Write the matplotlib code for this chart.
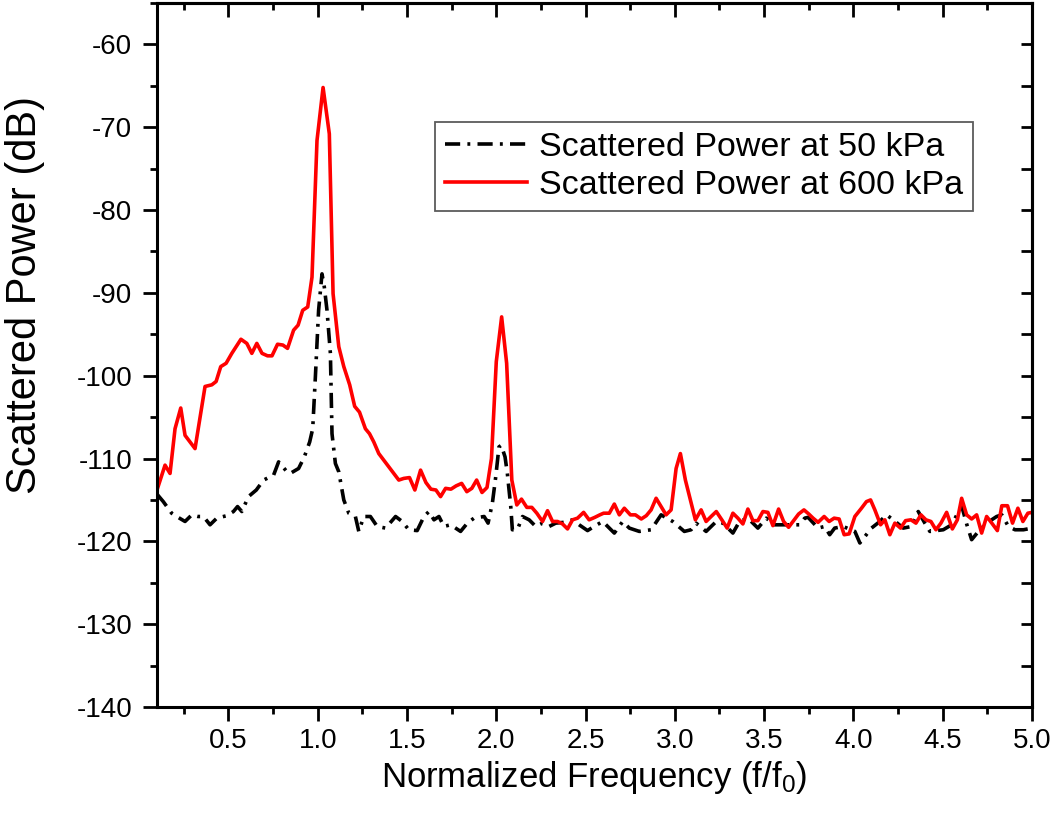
import matplotlib
matplotlib.use("Agg")
import matplotlib.pyplot as plt
from matplotlib.ticker import MultipleLocator, FixedLocator

# ---- data ----
x50 = [0.100, 0.135, 0.182, 0.210, 0.257, 0.295, 0.330, 0.360, 0.397, 0.435,
       0.491, 0.528, 0.551, 0.575, 0.612, 0.656, 0.697, 0.753, 0.781, 0.828,
       0.846, 0.893, 0.925, 0.955, 0.972, 0.987, 1.005, 1.024, 1.037, 1.052,
       1.071, 1.080, 1.099, 1.118, 1.146, 1.174, 1.211, 1.230, 1.258, 1.295,
       1.333, 1.380, 1.436, 1.473, 1.510, 1.557, 1.595, 1.623, 1.651, 1.679,
       1.707, 1.744, 1.800, 1.838, 1.875, 1.932, 1.954, 1.978, 1.997, 2.015,
       2.028, 2.049, 2.062, 2.081, 2.090, 2.118, 2.147, 2.184, 2.221, 2.259,
       2.296, 2.333, 2.380, 2.427, 2.464, 2.511, 2.548, 2.596, 2.661, 2.708,
       2.745, 2.801, 2.867, 2.923, 2.988, 3.053, 3.091, 3.119, 3.175, 3.232,
       3.269, 3.325, 3.362, 3.409, 3.465, 3.512, 3.559, 3.615, 3.699, 3.727,
       3.746, 3.802, 3.839, 3.867, 3.895, 3.942, 4.008, 4.036, 4.101, 4.148,
       4.185, 4.223, 4.279, 4.326, 4.363, 4.400, 4.428, 4.503, 4.550, 4.606,
       4.634, 4.662, 4.700, 4.746, 4.802, 4.831, 4.868, 4.905, 4.952, 5.000]
y50 = [-114.3, -115.2, -116.6, -117.0, -117.6, -116.8, -117.0, -117.0, -118.0, -117.2,
       -116.9, -116.4, -115.8, -116.4, -114.6, -113.8, -112.6, -112.0, -110.4, -111.6,
       -111.8, -111.2, -109.8, -108.0, -106.4, -100.1, -92.1, -87.7, -89.3, -92.1,
       -97.3, -107.0, -110.6, -111.6, -115.0, -116.6, -117.0, -118.8, -117.0, -117.0,
       -118.2, -118.4, -117.0, -117.6, -118.6, -118.7, -117.0, -116.4, -117.4, -117.0,
       -118.2, -118.0, -118.8, -117.8, -117.2, -117.0, -117.8, -115.4, -112.2, -108.6,
       -108.4, -109.8, -111.8, -115.8, -118.6, -118.6, -117.0, -117.4, -118.2, -117.8,
       -118.2, -117.8, -117.7, -117.4, -118.0, -118.7, -118.2, -117.6, -119.0, -117.6,
       -118.4, -118.8, -118.6, -116.8, -117.6, -118.8, -118.6, -117.8, -118.8, -117.6,
       -117.8, -119.0, -117.6, -117.2, -118.4, -117.2, -118.0, -118.0, -118.0, -117.2,
       -117.1, -118.4, -118.2, -119.2, -118.4, -118.2, -118.8, -120.2, -118.4, -117.6,
       -116.8, -117.4, -118.4, -118.2, -116.4, -117.8, -118.8, -118.6, -118.0, -115.7,
       -117.9, -119.8, -118.8, -117.8, -117.0, -116.8, -118.2, -118.6, -118.6, -118.4]

x600 = [0.100, 0.145, 0.173, 0.201, 0.233, 0.257, 0.285, 0.313, 0.369, 0.407,
        0.431, 0.457, 0.487, 0.519, 0.570, 0.603, 0.631, 0.659, 0.688, 0.719,
        0.744, 0.775, 0.805, 0.831, 0.865, 0.890, 0.916, 0.944, 0.968, 0.996,
        1.030, 1.065, 1.086, 1.118, 1.146, 1.179, 1.207, 1.234, 1.267, 1.290,
        1.314, 1.342, 1.370, 1.398, 1.426, 1.454, 1.482, 1.514, 1.544, 1.576,
        1.606, 1.634, 1.662, 1.688, 1.716, 1.746, 1.775, 1.806, 1.835, 1.863,
        1.890, 1.920, 1.948, 1.973, 2.000, 2.030, 2.058, 2.087, 2.115, 2.141,
        2.171, 2.199, 2.227, 2.259, 2.287, 2.315, 2.343, 2.371, 2.399, 2.427,
        2.455, 2.489, 2.520, 2.552, 2.580, 2.601, 2.633, 2.661, 2.689, 2.717,
        2.751, 2.779, 2.812, 2.840, 2.867, 2.895, 2.923, 2.951, 2.979, 3.007,
        3.031, 3.059, 3.087, 3.115, 3.147, 3.175, 3.203, 3.232, 3.263, 3.293,
        3.325, 3.353, 3.381, 3.409, 3.437, 3.465, 3.493, 3.521, 3.549, 3.581,
        3.609, 3.637, 3.665, 3.693, 3.723, 3.750, 3.774, 3.802, 3.836, 3.864,
        3.892, 3.920, 3.948, 3.976, 4.008, 4.045, 4.073, 4.096, 4.120, 4.152,
        4.176, 4.204, 4.232, 4.264, 4.292, 4.322, 4.350, 4.378, 4.406, 4.434,
        4.462, 4.490, 4.522, 4.554, 4.582, 4.606, 4.634, 4.662, 4.690, 4.718,
        4.746, 4.775, 4.806, 4.831, 4.863, 4.891, 4.921, 4.949, 4.977, 5.000]
y600 = [-113.8, -110.8, -111.8, -106.4, -103.9, -107.2, -108.0, -108.8, -101.3, -101.1,
        -100.7, -98.9, -98.5, -97.3, -95.6, -96.1, -97.3, -96.1, -97.3, -97.6,
        -97.6, -96.2, -96.3, -96.7, -94.5, -93.9, -92.1, -91.7, -88.1, -71.6,
        -65.2, -70.8, -90.1, -96.5, -98.9, -101.1, -103.7, -104.4, -106.4, -107.0,
        -108.0, -109.4, -110.2, -111.0, -111.8, -112.6, -112.4, -112.3, -113.8, -111.4,
        -112.9, -113.7, -113.8, -114.6, -113.6, -113.7, -113.3, -113.0, -114.0, -113.6,
        -112.6, -114.1, -113.5, -110.0, -98.3, -92.9, -98.5, -112.6, -115.6, -114.9,
        -115.9, -115.9, -116.6, -117.6, -116.3, -117.6, -117.6, -117.9, -118.5, -117.4,
        -117.2, -116.5, -117.4, -117.1, -116.8, -116.6, -116.6, -115.5, -116.8, -116.0,
        -116.8, -116.8, -117.3, -116.9, -116.2, -114.8, -115.8, -116.8, -116.2, -111.2,
        -109.4, -112.6, -115.0, -117.4, -116.2, -117.6, -117.0, -116.4, -117.4, -118.4,
        -116.6, -117.2, -117.9, -116.1, -117.5, -117.5, -116.4, -116.5, -118.1, -116.1,
        -117.6, -118.3, -117.5, -116.7, -116.2, -116.7, -117.2, -117.7, -117.0, -117.6,
        -117.2, -117.3, -119.2, -119.1, -117.0, -116.0, -115.2, -115.0, -116.2, -118.0,
        -117.4, -119.2, -117.8, -118.4, -117.5, -117.4, -117.8, -116.8, -117.4, -117.6,
        -118.6, -117.8, -116.5, -118.5, -117.4, -114.8, -116.8, -117.3, -116.8, -119.0,
        -117.0, -117.8, -118.7, -115.7, -115.7, -117.8, -116.0, -117.6, -116.6, -116.5]

labels = ["Scattered Power at 50 kPa", "Scattered Power at 600 kPa"]
xticks = [0.5, 1.0, 1.5, 2.0, 2.5, 3.0, 3.5, 4.0, 4.5, 5.0]
yticks = [-140, -130, -120, -110, -100, -90, -80, -70, -60]

plt.rcParams["mathtext.fontset"] = "custom"
plt.rcParams["mathtext.rm"] = "Liberation Sans"
plt.rcParams["mathtext.it"] = "Liberation Sans"
plt.rcParams["font.family"] = ["Liberation Sans", "DejaVu Sans"]

fig = plt.figure(figsize=(10.5, 8.21), dpi=100)
ax = fig.add_axes([157/1050, 1 - 707/821, (1032-157)/1050, (707-3)/821])

ax.plot(x50, y50, color="black", lw=2.6, dashes=(4.2, 2.0, 0.8, 2.0), label=labels[0])
ax.plot(x600, y600, color="#ff0000", lw=2.6, label=labels[1])

ax.set_xlim(0.1, 5.0)
ax.set_ylim(-140, -55)
ax.xaxis.set_major_locator(FixedLocator(xticks))
ax.xaxis.set_minor_locator(MultipleLocator(0.25))
ax.yaxis.set_major_locator(FixedLocator(yticks))
ax.yaxis.set_minor_locator(MultipleLocator(5))
ax.set_xticklabels([f"{t:.1f}" for t in xticks])
ax.set_yticklabels([str(t) for t in yticks])

for s in ax.spines.values():
    s.set_linewidth(2.2)

ax.tick_params(axis="x", which="major", direction="out", length=10, width=2.0, bottom=True, top=False, pad=5)
ax.tick_params(axis="x", which="minor", direction="out", length=5, width=2.0, bottom=True, top=False)
ax.tick_params(axis="y", which="major", direction="out", length=10, width=2.0, left=True, right=False, pad=8)
ax.tick_params(axis="y", which="minor", direction="out", length=5, width=2.0, left=True, right=False)

# mirrored inward ticks on top and right
sec_x = ax.secondary_xaxis("top")
sec_x.xaxis.set_major_locator(FixedLocator(xticks))
sec_x.xaxis.set_minor_locator(MultipleLocator(0.25))
sec_x.tick_params(which="major", direction="in", length=10, width=2.0, labeltop=False)
sec_x.tick_params(which="minor", direction="in", length=5, width=2.0)
sec_x.spines["top"].set_linewidth(2.2)
sec_y = ax.secondary_yaxis("right")
sec_y.yaxis.set_major_locator(FixedLocator(yticks))
sec_y.yaxis.set_minor_locator(MultipleLocator(5))
sec_y.tick_params(which="major", direction="in", length=8, width=2.0, labelright=False)
sec_y.tick_params(which="minor", direction="in", length=8, width=2.0)
sec_y.spines["right"].set_linewidth(2.2)

for lab in ax.get_xticklabels() + ax.get_yticklabels():
    lab.set_fontsize(20)

ax.set_xlabel("Normalized Frequency (f/f$_0$)", fontsize=25, labelpad=4)
ax.set_ylabel("Scattered Power (dB)", fontsize=30)
ax.yaxis.set_label_coords(-0.128, 0.585)

leg = ax.legend(loc="upper right", bbox_to_anchor=(973/1050, 1 - 122/821),
                bbox_transform=fig.transFigure, borderaxespad=0,
                prop={"size": 24.5}, frameon=True, fancybox=False,
                handlelength=2.4, handletextpad=0.35, labelspacing=0.2,
                borderpad=0.3)
leg.get_frame().set_edgecolor("#333333")
leg.get_frame().set_linewidth(1.3)

fig.savefig("out.png", dpi=100)
